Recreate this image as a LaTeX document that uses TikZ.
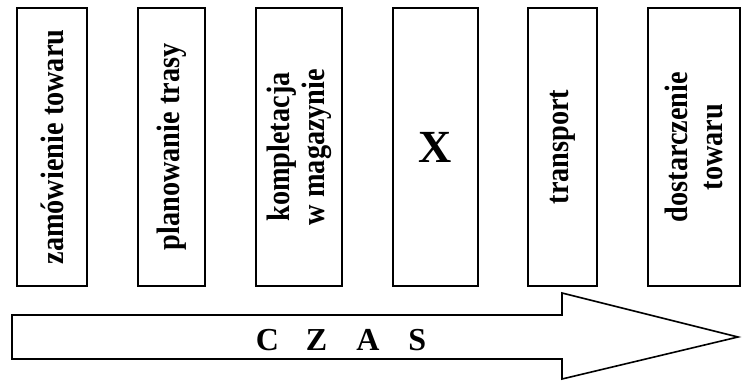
\documentclass[tikz,border=0pt]{standalone}
\usepackage{fontspec}
\setmainfont{Liberation Serif}
\newfontfamily\narrowfont[FakeStretch=0.87]{Liberation Serif}
\begin{document}
\begin{tikzpicture}[x=1pt,y=-1pt,
  box/.style={draw=black, line width=1.6pt, rectangle, rotate=90, minimum width=278pt, inner sep=0pt, align=center, font=\narrowfont\bfseries\fontsize{32.5}{35}\selectfont},
  xbox/.style={draw=black, line width=1.6pt, rectangle, minimum height=278pt, inner sep=0pt, font=\bfseries\fontsize{46}{50}\selectfont},
  arrowshape/.style={draw=black, line width=1.6pt, line join=miter}]
\useasboundingbox (0,0) rectangle (742,381);
\node[box, minimum height=70pt] (b1) at (52,147) {zamówienie towaru};
\node[box, minimum height=67pt] (b2) at (171.5,147) {planowanie trasy};
\node[box, minimum height=86pt] (b3) at (299,147) {kompletacja\\w magazynie};
\node[xbox, minimum width=85pt] (b4) at (435.5,147) {X};
\node[box, minimum height=69pt] (b5) at (562.5,147) {transport};
\node[box, minimum height=92pt] (b6) at (694,147) {dostarczenie\\towaru};
\draw[arrowshape] (12,315) -- (562,315) -- (562,293) -- (738,337) -- (562,379) -- (562,359) -- (12,359) -- cycle;
\node[font=\bfseries\fontsize{32}{36}\selectfont, inner sep=0pt] (czas) at (341,340) {C\hspace{27pt}Z\hspace{29pt}A\hspace{29pt}S};
\end{tikzpicture}
\end{document}
